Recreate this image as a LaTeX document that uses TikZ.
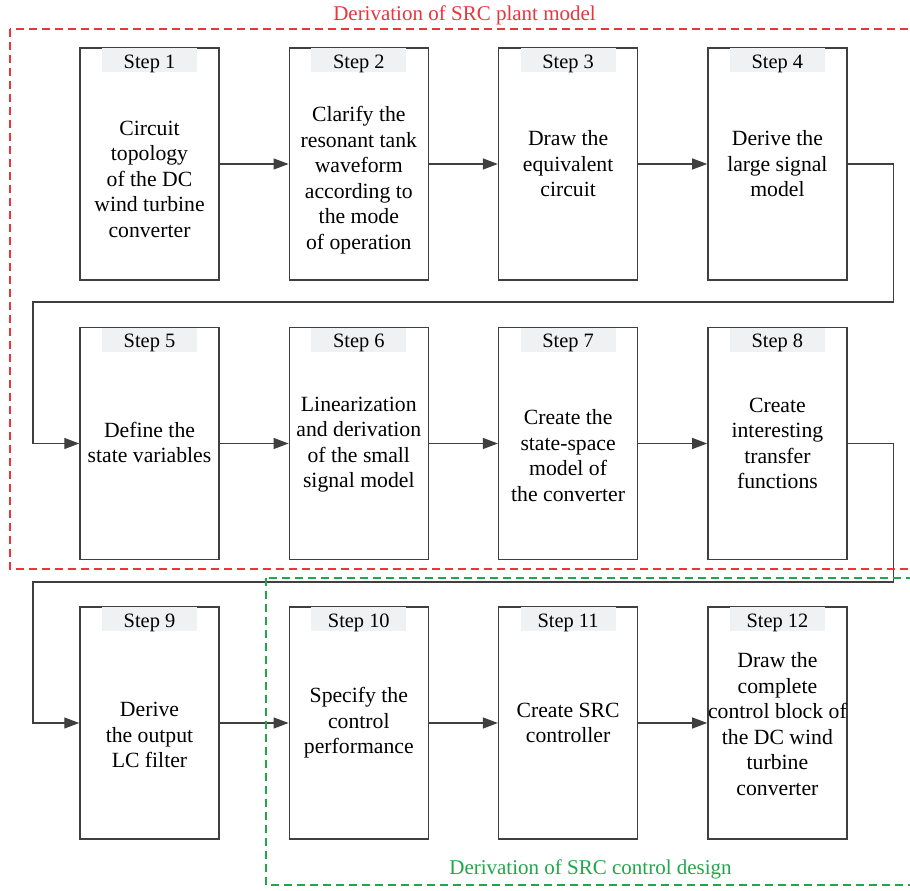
\documentclass[tikz,border=0pt]{standalone}
\usepackage{fontspec}
\setmainfont{Liberation Serif}
\usetikzlibrary{
  arrows.meta,
  positioning
}
\definecolor{srcRed}{HTML}{E8363C}
\definecolor{srcGreen}{HTML}{1FA84A}
\definecolor{srcLine}{HTML}{3F3F3F}
\definecolor{srcTag}{HTML}{F0F1F2}
\tikzset{
  stepbox/.style={
    draw=srcLine, line width=0.75pt, minimum width=69.5pt, minimum height=116pt,
    inner sep=0pt
  },
  steptag/.style={
    fill=srcTag, minimum width=47.5pt, minimum height=12pt, inner sep=0pt,
    text height=9.25pt, text depth=1.5pt,
    anchor=north, font=\fontsize{10.2}{12}\selectfont
  },
  steptext/.style={align=center, inner sep=0pt, font=\fontsize{10.85}{12.75}\selectfont},
  flow/.style={-{Triangle[length=7.5pt, width=5.5pt]}, line width=0.6pt, srcLine},
  zone/.style={dash pattern=on 4pt off 2.5pt, line width=0.6pt},
  zonetitle/.style={font=\fontsize{10.5}{12}\selectfont}
}

\begin{document}
\begin{tikzpicture}[x=0.5pt, y=0.5pt, node distance=23pt and 34.4pt]
  \clip (0,0) rectangle (910,890);
  \fill[white] (0,0) rectangle (910,890);

  \node[stepbox] (s1) at (149.5,726) {};
  \node[stepbox, right=of s1] (s2) {};
  \node[stepbox, right=of s2] (s3) {};
  \node[stepbox, right=of s3] (s4) {};
  \node[stepbox, below=of s1] (s5) {};
  \node[stepbox, right=of s5] (s6) {};
  \node[stepbox, right=of s6] (s7) {};
  \node[stepbox, right=of s7] (s8) {};
  \node[stepbox, below=of s5] (s9) {};
  \node[stepbox, right=of s9] (s10) {};
  \node[stepbox, right=of s10] (s11) {};
  \node[stepbox, right=of s11] (s12) {};

  \node[steptag] (t1) at ([yshift=-0.4pt]s1.north) {Step 1};
  \node[steptag] (t2) at ([yshift=-0.4pt]s2.north) {Step 2};
  \node[steptag] (t3) at ([yshift=-0.4pt]s3.north) {Step 3};
  \node[steptag] (t4) at ([yshift=-0.4pt]s4.north) {Step 4};
  \node[steptag] (t5) at ([yshift=-0.4pt]s5.north) {Step 5};
  \node[steptag] (t6) at ([yshift=-0.4pt]s6.north) {Step 6};
  \node[steptag] (t7) at ([yshift=-0.4pt]s7.north) {Step 7};
  \node[steptag] (t8) at ([yshift=-0.4pt]s8.north) {Step 8};
  \node[steptag] (t9) at ([yshift=-0.4pt]s9.north) {Step 9};
  \node[steptag] (t10) at ([yshift=-0.4pt]s10.north) {Step 10};
  \node[steptag] (t11) at ([yshift=-0.4pt]s11.north) {Step 11};
  \node[steptag] (t12) at ([yshift=-0.4pt]s12.north) {Step 12};

  \node[steptext] (x1) at ([yshift=-7.5pt]s1.center)
    {Circuit\\topology\\of the DC\\wind turbine\\converter};
  \node[steptext] (x2) at ([yshift=-8pt]s2.center)
    {Clarify the\\resonant tank\\waveform\\according to\\the mode\\of operation};
  \node[steptext] (x3) at (s3.center) {Draw the\\equivalent\\circuit};
  \node[steptext] (x4) at (s4.center) {Derive the\\large signal\\model};
  \node[steptext] (x5) at ([yshift=0.5pt]s5.center) {Define the\\state variables};
  \node[steptext] (x6) at ([yshift=-0.5pt]s6.center)
    {Linearization\\and derivation\\of the small\\signal model};
  \node[steptext] (x7) at ([yshift=-6pt]s7.center)
    {Create the\\state-space\\model of\\the converter};
  \node[steptext] (x8) at (s8.center) {Create\\interesting\\transfer\\functions};
  \node[steptext] (x9) at ([yshift=-6pt]s9.center) {Derive\\the output\\LC filter};
  \node[steptext] (x10) at (s10.center) {Specify the\\control\\performance};
  \node[steptext] (x11) at (s11.center) {Create SRC\\controller};
  \node[steptext] (x12) at ([yshift=-0.5pt]s12.center)
    {Draw the\\complete\\control block of\\the DC wind\\turbine\\converter};

  \coordinate (c1) at (33,588);
  \coordinate (c2) at (33,308);

  \draw[flow] (s1) -- (s2);
  \draw[flow] (s2) -- (s3);
  \draw[flow] (s3) -- (s4);
  \draw[flow] (s4.east) -- ++(46,0) |- (c1) |- (s5.west);
  \draw[flow] (s5) -- (s6);
  \draw[flow] (s6) -- (s7);
  \draw[flow] (s7) -- (s8);
  \draw[flow] (s8.east) -- ++(46,0) |- (c2) |- (s9.west);
  \draw[flow] (s9) -- (s10);
  \draw[flow] (s10) -- (s11);
  \draw[flow] (s11) -- (s12);

  \draw[zone, srcRed] (10,861) rectangle (920,321);
  \draw[zone, srcGreen] (266,312) rectangle (920,5);
  \node[zonetitle, text=srcRed] (plant) at (464.5,875) {Derivation of SRC plant model};
  \node[zonetitle, text=srcGreen] (ctrl) at (590.5,21) {Derivation of SRC control design};
\end{tikzpicture}
\end{document}
